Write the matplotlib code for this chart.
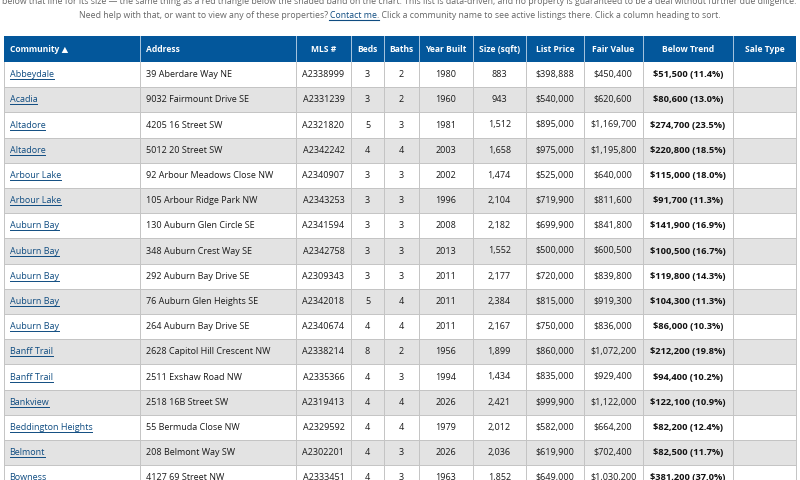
import matplotlib
matplotlib.use("Agg")
import matplotlib.pyplot as plt
from matplotlib.patches import Rectangle

plt.rcParams["font.family"] = ["Open Sans", "DejaVu Sans"]

headers = ["Community ▲", "Address", "MLS #", "Beds", "Baths", "Year Built",
           "Size (sqft)", "List Price", "Fair Value", "Below Trend", "Sale Type"]

communities = ["Abbeydale", "Acadia", "Altadore", "Altadore", "Arbour Lake", "Arbour Lake",
               "Auburn Bay", "Auburn Bay", "Auburn Bay", "Auburn Bay", "Auburn Bay",
               "Banff Trail", "Banff Trail", "Bankview", "Beddington Heights", "Belmont", "Bowness"]
addresses = ["39 Aberdare Way NE", "9032 Fairmount Drive SE", "4205 16 Street SW", "5012 20 Street SW",
             "92 Arbour Meadows Close NW", "105 Arbour Ridge Park NW", "130 Auburn Glen Circle SE",
             "348 Auburn Crest Way SE", "292 Auburn Bay Drive SE", "76 Auburn Glen Heights SE",
             "264 Auburn Bay Drive SE", "2628 Capitol Hill Crescent NW", "2511 Exshaw Road NW",
             "2518 16B Street SW", "55 Bermuda Close NW", "208 Belmont Way SW", "4127 69 Street NW"]
mls = ["A2338999", "A2331239", "A2321820", "A2342242", "A2340907", "A2343253", "A2341594", "A2342758",
       "A2309343", "A2342018", "A2340674", "A2338214", "A2335366", "A2319413", "A2329592", "A2302201",
       "A2333451"]
beds = [3, 3, 5, 4, 3, 3, 3, 3, 3, 5, 4, 8, 4, 4, 4, 4, 4]
baths = [2, 2, 3, 4, 3, 3, 3, 3, 3, 4, 4, 2, 3, 4, 4, 3, 3]
year_built = [1980, 1960, 1981, 2003, 2002, 1996, 2008, 2013, 2011, 2011, 2011, 1956, 1994, 2026, 1979, 2026, 1963]
size_sqft = ["883", "943", "1,512", "1,658", "1,474", "2,104", "2,182", "1,552", "2,177", "2,384", "2,167",
             "1,899", "1,434", "2,421", "2,012", "2,036", "1,852"]
list_price = ["$398,888", "$540,000", "$895,000", "$975,000", "$525,000", "$719,900", "$699,900", "$500,000",
              "$720,000", "$815,000", "$750,000", "$860,000", "$835,000", "$999,900", "$582,000", "$619,900",
              "$649,000"]
fair_value = ["$450,400", "$620,600", "$1,169,700", "$1,195,800", "$640,000", "$811,600", "$841,800", "$600,500",
              "$839,800", "$919,300", "$836,000", "$1,072,200", "$929,400", "$1,122,000", "$664,200", "$702,400",
              "$1,030,200"]
below_trend = ["$51,500 (11.4%)", "$80,600 (13.0%)", "$274,700 (23.5%)", "$220,800 (18.5%)", "$115,000 (18.0%)",
               "$91,700 (11.3%)", "$141,900 (16.9%)", "$100,500 (16.7%)", "$119,800 (14.3%)", "$104,300 (11.3%)",
               "$86,000 (10.3%)", "$212,200 (19.8%)", "$94,400 (10.2%)", "$122,100 (10.9%)", "$82,200 (12.4%)",
               "$82,500 (11.7%)", "$381,200 (37.0%)"]
sale_type = [""] * len(communities)

# layout in picture pixels
col_edges = [4, 140, 296, 351, 384, 419, 472.5, 526, 584, 642.5, 733, 796]
header_top = 36
header_bottom = 62
row_h = 25.2

navy = "#03579b"
link = "#0f4c81"
grid = "#c4c4c4"
stripe = "#e3e3e3"
ink = "#1a1a1a"
intro = "#666666"
fs = 6.5
fs_bold = 6.7
fs_head = 6.1
fs_intro = 6.3

fig = plt.figure(figsize=(8, 4.8), dpi=100)
ax = fig.add_axes([0, 0, 1, 1])
ax.set_xlim(0, 800)
ax.set_ylim(480, 0)
ax.axis("off")

# intro text, first line is cut off by the top of the picture
ax.text(399, 2, "below that line for its size — the same thing as a red triangle below the shaded band on the chart. "
        "This list is data-driven, and no property is guaranteed to be a deal without further due diligence.",
        ha="center", va="center", fontsize=fs_intro, color=intro)
before = "Need help with that, or want to view any of these properties? "
after = ". Click a community name to see active listings there. Click a column heading to sort."
t1 = ax.text(79, 15.5, before, ha="left", va="center", fontsize=fs_intro, color=intro)
t2 = ax.annotate("Contact me", xy=(1, 0.5), xycoords=t1, va="center", fontsize=fs_intro, color=link)
t3 = ax.annotate(after, xy=(1, 0.5), xycoords=t2, va="center", fontsize=fs_intro, color=intro)
ax.plot([329, 379], [20, 20], color=link, lw=0.8)

# header
ax.add_patch(Rectangle((col_edges[0], header_top), col_edges[-1] - col_edges[0], header_bottom - header_top,
                       fc=navy, ec="none"))
for i, h in enumerate(headers):
    left, right = col_edges[i], col_edges[i + 1]
    if i < 2:
        ax.text(left + 5.5, 49.5, h, ha="left", va="center", fontsize=fs_head, color="white", fontweight="bold")
    else:
        ax.text((left + right) / 2, 49.5, h, ha="center", va="center", fontsize=fs_head, color="white",
                fontweight="bold")
    if i > 0:
        ax.plot([left, left], [header_top, header_bottom], color="#a9c6e0", lw=0.7)

# body
n = len(communities)
for r in range(n):
    top = header_bottom + r * row_h
    if r % 2 == 1:
        ax.add_patch(Rectangle((col_edges[0], top), col_edges[-1] - col_edges[0], row_h, fc=stripe, ec="none"))
    ax.plot([col_edges[0], col_edges[-1]], [top + row_h, top + row_h], color=grid, lw=0.7)
    cy = top + row_h / 2
    ax.text(col_edges[0] + 5.5, cy, communities[r], ha="left", va="center", fontsize=fs, color=link)
    ax.text(col_edges[1] + 6, cy, addresses[r], ha="left", va="center", fontsize=fs, color=ink)
    cells = [mls[r], beds[r], baths[r], year_built[r], size_sqft[r], list_price[r], fair_value[r],
             below_trend[r], sale_type[r]]
    for c, val in enumerate(cells):
        mid = (col_edges[c + 2] + col_edges[c + 3]) / 2
        if c == 7:
            ax.text(mid, cy, str(val), ha="center", va="center", fontsize=fs_bold, color="#111111", fontweight="bold")
        else:
            ax.text(mid, cy, str(val), ha="center", va="center", fontsize=fs, color=ink)

# community link underlines, sized from the drawn text
fig.canvas.draw()
renderer = fig.canvas.get_renderer()
inv = ax.transData.inverted()
for txt in list(ax.texts):
    if txt.get_color() == link and txt.get_text() in communities:
        bb = txt.get_window_extent(renderer)
        (x0, _), (x1, _) = inv.transform([(bb.x0, bb.y0), (bb.x1, bb.y1)])
        y = txt.get_position()[1] + 4.5
        ax.plot([x0, x1], [y, y], color=link, lw=0.7)

# vertical rules and outer border
bottom = 480
for x in col_edges:
    ax.plot([x, x], [header_bottom, bottom], color=grid, lw=0.7)

fig.savefig("out.png", dpi=100)
